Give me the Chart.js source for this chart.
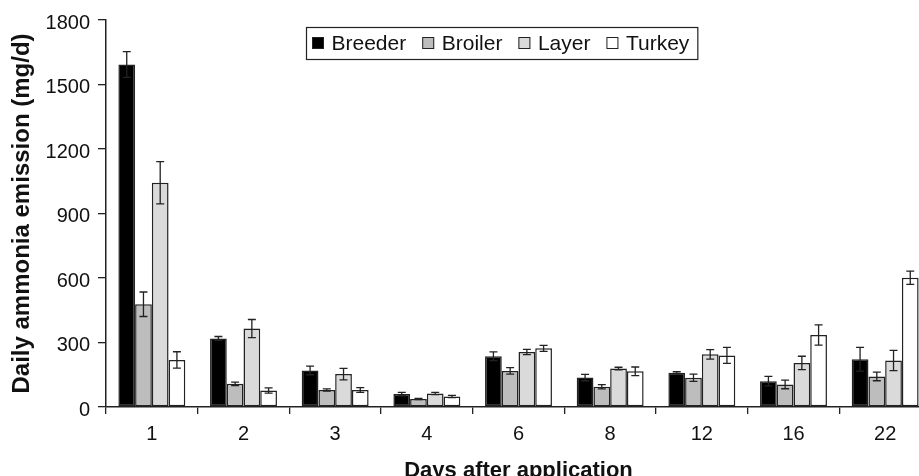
<!DOCTYPE html>
<html>
<head>
<meta charset="utf-8">
<script src="https://cdn.jsdelivr.net/npm/chart.js@4.4.1/dist/chart.umd.min.js"></script>
<style>
  html, body { margin: 0; padding: 0; background: #fff; overflow: hidden; }
  #wrap { width: 940px; height: 476px; }
</style>
</head>
<body>
<div id="wrap"><canvas id="chart"></canvas></div>
<script>
// Days after application (categories)
const days = ["1", "2", "3", "4", "6", "8", "12", "16", "22"];

// Mean daily ammonia emission (mg/d)
const breeder = [1593, 319, 170, 60, 236, 137, 159, 120, 222];
const broiler = [478, 108, 79, 37, 168, 94, 136, 105, 142];
const layer = [1043, 365, 153, 63, 256, 179, 245, 205, 216];
const turkey = [219, 77, 79, 49, 273, 166, 240, 335, 601];

// Error bar half-lengths (mg/d)
const breederErr = [60, 9, 20, 8, 20, 15, 5, 22, 55];
const broilerErr = [57, 8, 5, 3, 15, 10, 17, 20, 20];
const layerErr = [98, 42, 27, 5, 12, 6, 22, 31, 47];
const turkeyErr = [38, 12, 11, 5, 14, 20, 37, 47, 31];

const yTicks = [0, 300, 600, 900, 1200, 1500, 1800];

const FONT = "'Liberation Sans', Arial, sans-serif";
const INK = "#222";

// error bars drawn from the dataset values through the y scale
const errorBars = {
  id: "errorBars",
  afterDatasetsDraw(chart) {
    const ctx = chart.ctx;
    const y = chart.scales.y;
    ctx.save();
    ctx.strokeStyle = INK;
    ctx.lineWidth = 1.3;
    chart.data.datasets.forEach((ds, i) => {
      const meta = chart.getDatasetMeta(i);
      meta.data.forEach((bar, j) => {
        const v = ds.data[j], e = ds.errors[j];
        const top = y.getPixelForValue(v + e);
        const bot = y.getPixelForValue(v - e);
        const cap = 4;
        ctx.beginPath();
        ctx.moveTo(bar.x, top); ctx.lineTo(bar.x, bot);
        ctx.moveTo(bar.x - cap, top); ctx.lineTo(bar.x + cap, top);
        ctx.moveTo(bar.x - cap, bot); ctx.lineTo(bar.x + cap, bot);
        ctx.stroke();
      });
    });
    ctx.restore();
  }
};

// boxed legend sitting inside the plot area
const boxLegend = {
  id: "boxLegend",
  afterDraw(chart) {
    const ctx = chart.ctx;
    const area = chart.chartArea;
    const left = area.left + 200, top = area.top + 7, h = 32;
    ctx.save();
    ctx.font = "21px " + FONT;
    ctx.textBaseline = "middle";
    const mid = top + h / 2;
    let x = left + 6;
    chart.data.datasets.forEach((ds, i) => {
      ctx.fillStyle = ds.backgroundColor;
      ctx.fillRect(x, mid - 6, 12, 12);
      ctx.strokeStyle = INK;
      ctx.lineWidth = 1;
      ctx.strokeRect(x + 0.5, mid - 5.5, 11, 11);
      x += 12 + 7.5;
      ctx.fillStyle = "#111";
      ctx.fillText(ds.label, x, mid + 1);
      x += ctx.measureText(ds.label).width;
      if (i < chart.data.datasets.length - 1) x += 16;
    });
    x += 8;
    ctx.strokeStyle = INK;
    ctx.lineWidth = 1.2;
    ctx.strokeRect(left + 0.5, top + 0.5, x - left, h);
    ctx.restore();
  }
};

function series(label, data, errors, color) {
  return {
    label: label,
    data: data,
    errors: errors,
    backgroundColor: color,
    borderColor: INK,
    borderWidth: 1.5,
    borderSkipped: false,
    categoryPercentage: 0.73,
    barPercentage: 1.0
  };
}

Chart.defaults.font.family = FONT;
Chart.defaults.color = "#111";

new Chart(document.getElementById("chart"), {
  type: "bar",
  data: {
    labels: days,
    datasets: [
      series("Breeder", breeder, breederErr, "#000000"),
      series("Broiler", broiler, broilerErr, "#bdbdbd"),
      series("Layer", layer, layerErr, "#dadada"),
      series("Turkey", turkey, turkeyErr, "#ffffff")
    ]
  },
  options: {
    responsive: true,
    maintainAspectRatio: false,
    animation: false,
    devicePixelRatio: 1,
    layout: { padding: { top: 17, right: 9, bottom: 0, left: 0 } },
    plugins: {
      legend: { display: false },
      tooltip: { enabled: false }
    },
    scales: {
      x: {
        grid: { display: true, offset: true, drawOnChartArea: false, drawTicks: true, tickLength: 7, color: INK, lineWidth: 1.3 },
        border: { display: true, color: INK, width: 1.5 },
        ticks: { font: { size: 20 }, padding: 8, color: "#111" },
        title: {
          display: true,
          text: "Days after application",
          font: { size: 22, weight: "bold" },
          color: "#111",
          padding: { top: 0, bottom: -8 }
        },
        afterFit(scale) { scale.height = 69; }
      },
      y: {
        min: 0,
        max: 1800,
        afterBuildTicks(scale) { scale.ticks = yTicks.map(v => ({ value: v })); },
        grid: { display: true, drawOnChartArea: false, drawTicks: true, tickLength: 8, color: INK, lineWidth: 1.3 },
        border: { display: true, color: INK, width: 1.5 },
        ticks: {
          font: { size: 20 },
          padding: 8,
          color: "#111",
          labelOffset: 3,
          callback: (v) => String(v)
        },
        title: {
          display: true,
          text: "Daily ammonia emission (mg/d)",
          font: { size: 24, weight: "bold" },
          color: "#111",
          padding: { top: 8, bottom: 0 }
        },
        afterFit(scale) { scale.width = 106; }
      }
    }
  },
  plugins: [errorBars, boxLegend]
});
</script>
</body>
</html>
